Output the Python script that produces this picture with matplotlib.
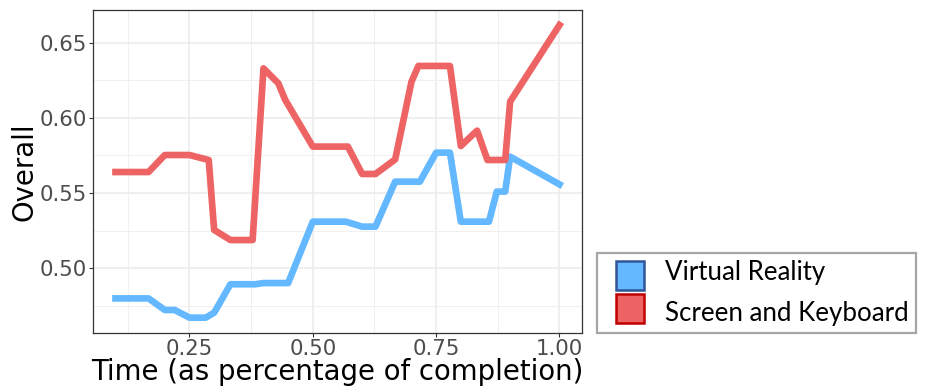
import matplotlib.pyplot as plt
from matplotlib.patches import Rectangle
from matplotlib.ticker import MultipleLocator

# values
time_vr = [0.10, 0.167, 0.20, 0.22, 0.25, 0.283, 0.30, 0.333, 0.383, 0.40, 0.45,
           0.50, 0.567, 0.60, 0.627, 0.667, 0.717, 0.75, 0.778, 0.80, 0.857,
           0.873, 0.89, 0.90, 1.00]
overall_vr = [0.480, 0.480, 0.4723, 0.4723, 0.4672, 0.4672, 0.4705, 0.4894, 0.4894,
              0.4902, 0.4902, 0.531, 0.531, 0.5277, 0.5277, 0.5576, 0.5576, 0.5769,
              0.5769, 0.531, 0.531, 0.551, 0.551, 0.5742, 0.5558]

time_sk = [0.10, 0.167, 0.20, 0.25, 0.289, 0.30, 0.333, 0.378, 0.40, 0.43, 0.444,
           0.50, 0.571, 0.60, 0.627, 0.667, 0.70, 0.714, 0.778, 0.80, 0.833,
           0.854, 0.89, 0.90, 1.00]
overall_sk = [0.564, 0.564, 0.5753, 0.5753, 0.572, 0.5255, 0.5188, 0.5188, 0.6329,
              0.623, 0.612, 0.5809, 0.5809, 0.5627, 0.5627, 0.5724, 0.624, 0.6345,
              0.6345, 0.5813, 0.5915, 0.572, 0.572, 0.6108, 0.6617]

groups = ['Virtual Reality', 'Screen and Keyboard']
line_colors = ['#63B8FF', '#EE6363']
edge_colors = ['#2F5597', '#C00000']

W, H = 932, 390
fig = plt.figure(figsize=(W / 100, H / 100), dpi=100)
ax = fig.add_axes([0.1001, 0.1469, 0.524, 0.8275])

ax.plot(time_vr, overall_vr, color=line_colors[0], lw=4.8, solid_joinstyle='round')
ax.plot(time_sk, overall_sk, color=line_colors[1], lw=4.8, solid_joinstyle='round')

ax.set_xlim(0.055, 1.045)
ax.set_ylim(0.4572, 0.6717)
ax.xaxis.set_minor_locator(MultipleLocator(0.125))
ax.yaxis.set_minor_locator(MultipleLocator(0.025))
ax.set_xticks([0.25, 0.50, 0.75, 1.00])
ax.set_xticklabels(['0.25', '0.50', '0.75', '1.00'])
ax.set_yticks([0.50, 0.55, 0.60, 0.65])
ax.set_yticklabels(['0.50', '0.55', '0.60', '0.65'])

ax.grid(which='major', color='#EBEBEB', lw=1.1, zorder=0)
ax.grid(which='minor', color='#F0F0F0', lw=0.7, zorder=0)
ax.set_axisbelow(True)
for s in ax.spines.values():
    s.set_color('#333333')
    s.set_linewidth(0.9)
ax.tick_params(which='major', length=3, width=0.8, color='#333333',
               labelsize=15.3, labelcolor='#4D4D4D', pad=1.5)
ax.tick_params(which='minor', length=0)

ax.set_xlabel('Time (as percentage of completion)', fontsize=19.8, labelpad=-1)
ax.set_ylabel('Overall', fontsize=19.8, labelpad=1)

# legend box drawn by hand (pixel positions -> figure fraction)
def px(x, y):
    return x / W, 1 - y / H

bx, by = px(597, 333)
fig.patches.append(Rectangle((bx, by), 319 / W, 80 / H, transform=fig.transFigure,
                             facecolor='white', edgecolor='#A6A6A6', lw=1.6))
for i, name in enumerate(groups):
    top = 261 + i * 33.3
    sx, sy = px(616, top + 29)
    fig.patches.append(Rectangle((sx, sy), 28 / W, 29 / H, transform=fig.transFigure,
                                 facecolor=line_colors[i], edgecolor=edge_colors[i], lw=1.8))
    tx, ty = px(665, 280 + i * 41.5)
    fig.text(tx, ty, name, family='Lato', fontsize=18.6, va='baseline', ha='left')

fig.savefig('out.png', dpi=100)
